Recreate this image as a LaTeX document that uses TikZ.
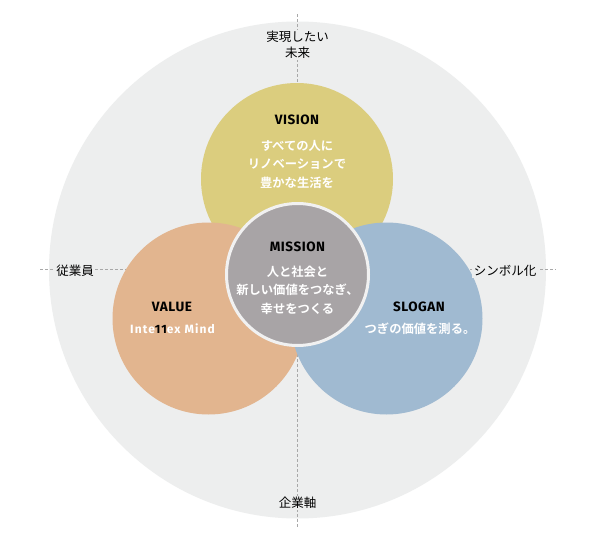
\documentclass[tikz,border=0pt]{standalone}
\usepackage{fontspec}
\setmainfont{Fira Sans}
\newfontfamily\jp{Noto Sans CJK JP}[BoldFont={Noto Sans CJK JP Bold}]
\newfontfamily\widesans{Fira Sans}[LetterSpace=9]
\newfontfamily\titlesans{Fira Sans}[LetterSpace=4]
\definecolor{outerc}{HTML}{EDEEEE}
\definecolor{visionc}{HTML}{DBCD7E}
\definecolor{valuec}{HTML}{E2B58F}
\definecolor{sloganc}{HTML}{A0BAD1}
\definecolor{missionc}{HTML}{A8A4A6}
\definecolor{ringc}{HTML}{F1F1F1}
\definecolor{dashc}{HTML}{A8A8A8}
\tikzset{
  bigcirc/.style={circle, inner sep=0pt, minimum size=192pt},
  dashline/.style={draw=dashc, line width=0.8pt, dash pattern=on 3pt off 2pt},
  titletext/.style={font=\fontsize{13.5}{16}\selectfont\titlesans\bfseries, text=black, inner sep=0pt},
  bodytext/.style={font=\fontsize{12.3}{18.5}\selectfont\jp\bfseries, text=white, align=center, inner sep=0pt},
  axislabel/.style={font=\fontsize{12.5}{16}\selectfont\jp, text=black, fill=outerc, align=center, inner sep=1.5pt}
}
\begin{document}
\begin{tikzpicture}[x=1pt,y=-1pt]
\useasboundingbox (0,0) rectangle (595,538);
\fill[white] (0,0) rectangle (595,538);
\node[circle, fill=outerc, inner sep=0pt, minimum size=497pt] (outer) at (297.5,270) {};
\coordinate (vt) at (297.5,14);
\coordinate (vb) at (297.5,528);
\coordinate (hl) at (40,269);
\coordinate (hr) at (556,269);
\draw[dashline] (vt) -- (vb);
\draw[dashline] (hl) -- (hr);
\node[bigcirc, fill=visionc] (vision) at (297,179) {};
\node[bigcirc, fill=valuec] (value) at (208.5,318.5) {};
\node[bigcirc, fill=sloganc] (slogan) at (386.5,318.5) {};
\node[circle, fill=missionc, draw=ringc, line width=3pt, inner sep=0pt, minimum size=142pt] (mission) at (297.5,274.5) {};
% texts
\node[titletext] (visiont) at (297,120) {VISION};
\node[bodytext] (visionb) at (297,164) {すべての人に\\リノベーションで\\豊かな生活を};
\node[titletext] (missiont) at (297.5,247) {MISSION};
\node[bodytext] (missionb) at (297.5,290) {人と社会と\\新しい価値をつなぎ、\\幸せをつくる};
\node[titletext] (valuet) at (172,307) {VALUE};
\node[font=\fontsize{12}{14}\selectfont\widesans\bfseries, text=white, inner sep=0pt] (valueb) at (172.5,328.5) {Inte\textcolor{black}{11}ex Mind};
\node[titletext] (slogant) at (419,307) {SLOGAN};
\node[bodytext] (sloganb) at (420,328.5) {つぎの価値を測る。};
% axis labels
\node[axislabel] (top) at (297.5,45) {実現したい\\未来};
\node[axislabel] (left) at (75,271) {従業員};
\node[axislabel] (right) at (505,271) {シンボル化};
\node[axislabel] (bottom) at (297.5,503) {企業軸};
\end{tikzpicture}
\end{document}
